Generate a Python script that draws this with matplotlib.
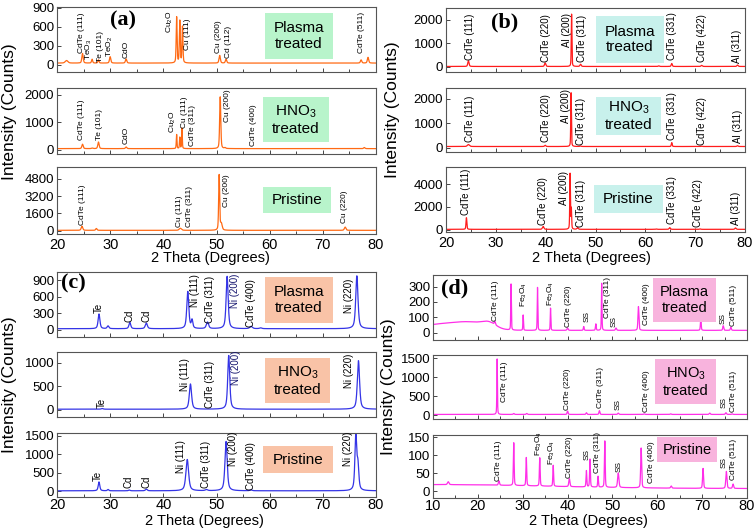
import numpy as np
import matplotlib
matplotlib.use('Agg')
import matplotlib.pyplot as plt
from matplotlib.patches import Rectangle
from matplotlib.ticker import MultipleLocator

plt.rcParams['font.family'] = ['Liberation Sans', 'DejaVu Sans']
plt.rcParams['mathtext.default'] = 'regular'

W, H = 756, 532

# ---------------- data: peak lists ----------------
# (a) CdTe/Cu
a1_base = 30
a1_pos = [21.8, 24.8, 26.6, 27.8, 30.0, 33.0, 42.5, 43.1, 43.6, 50.6, 51.8, 77.2, 78.5]
a1_hgt = [40, 150, 60, 50, 100, 65, 720, 660, 570, 120, 60, 50, 90]
a1_wid = [0.6, 0.3, 0.25, 0.25, 0.3, 0.3, 0.2, 0.2, 0.2, 0.3, 0.3, 0.3, 0.3]
a1_lbl = [("CdTe (111)", 24.6, 190), ("TeO$_3$", 26.0, 80), ("Te (101)", 28.1, 50),
          ("TeO$_2$", 30.0, 130), ("CdO", 33.0, 110), ("Cu$_2$O", 41.2, 500),
          ("Cu (111)", 44.6, 230), ("Cu (200)", 50.3, 190), ("Cd (112)", 52.2, 110),
          ("CdTe (511)", 77.2, 190)]

a2_base = 40
a2_pos = [24.8, 26.6, 27.8, 33.0, 42.5, 43.1, 43.5, 50.7, 51.6, 77.8]
a2_hgt = [160, 20, 240, 60, 510, 410, 740, 1880, 30, 40]
a2_wid = [0.3, 0.3, 0.3, 0.3, 0.15, 0.15, 0.15, 0.25, 0.3, 0.3]
a2_lbl = [("CdTe (111)", 24.6, 360), ("Te (101)", 27.9, 360), ("CdO", 33.0, 200),
          ("Cu$_2$O", 41.8, 600), ("Cu (111)", 43.9, 790), ("CdTe (311)", 45.5, 120),
          ("Cu (200)", 52.1, 1020), ("CdTe (400)", 57.0, 120)]

a3_base = 40
a3_pos = [24.7, 27.4, 43.2, 50.5, 50.9, 74.2]
a3_hgt = [380, 170, 190, 5100, 600, 300]
a3_wid = [0.35, 0.3, 0.5, 0.22, 0.4, 0.35]
a3_lbl = [("CdTe (111)", 24.8, 530), ("Cu (111)", 43.0, 370), ("CdTe (311)", 45.0, 370),
          ("Cu (200)", 51.9, 2230), ("Cu (220)", 74.0, 690)]

# (b) CdTe/Al
b1_base = 20
b1_pos = [24.5, 39.9, 45.2, 47.0, 62.7, 65.3, 71.3, 78.5]
b1_hgt = [240, 150, 2220, 95, 25, 125, 45, 60]
b1_wid = [0.3, 0.3, 0.15, 0.3, 0.3, 0.25, 0.3, 0.3]
b1_lbl = [("CdTe (111)", 24.8, 290), ("CdTe (220)", 40.1, 215), ("Al (200)", 44.2, 860),
          ("CdTe (311)", 47.3, 215), ("CdTe (331)", 65.3, 290), ("CdTe (422)", 71.3, 215),
          ("Al (311)", 78.3, 150)]

b2_base = 45
b2_pos = [24.5, 39.9, 45.1, 47.0, 65.3, 71.3, 78.5]
b2_hgt = [80, 50, 2200, 20, 160, 15, 30]
b2_wid = [0.5, 0.3, 0.15, 0.3, 0.2, 0.3, 0.3]
b2_lbl = [("CdTe (111)", 24.8, 230), ("CdTe (220)", 40.0, 230), ("Al (200)", 44.0, 1000),
          ("CdTe (311)", 47.0, 100), ("CdTe (331)", 65.3, 300), ("CdTe (422)", 71.4, 100),
          ("Al (311)", 78.5, 170)]

b3_base = 25
b3_pos = [24.1, 39.5, 44.9, 45.15, 46.4, 62.2, 64.9, 71.0, 78.1]
b3_hgt = [1030, 260, 4900, 1800, 150, 30, 150, 35, 125]
b3_wid = [0.2, 0.35, 0.15, 0.15, 0.3, 0.3, 0.3, 0.3, 0.3]
b3_lbl = [("CdTe (111)", 24.0, 1260), ("CdTe (220)", 39.4, 380), ("Al (200)", 43.7, 2140),
          ("CdTe (311)", 47.0, 230), ("CdTe (331)", 65.3, 530), ("CdTe (422)", 70.5, 230),
          ("Al (311)", 78.2, 380)]

# (c) CdTe/Ni
c1_base = 15
c1_pos = [27.9, 29.6, 33.7, 36.8, 44.6, 45.4, 48.3, 52.0, 56.5, 58.3, 76.4]
c1_hgt = [270, 50, 115, 105, 680, 150, 120, 960, 40, 15, 970]
c1_wid = [0.4, 0.4, 0.4, 0.45, 0.45, 0.35, 0.5, 0.45, 0.6, 0.5, 0.5]
c1_lbl = [("Te", 27.8, 300), ("Cd", 33.7, 145), ("Cd", 36.8, 145), ("Ni (111)", 46.0, 420),
          ("CdTe (311)", 48.7, 115), ("Ni (200)", 53.4, 390), ("CdTe (400)", 56.5, 50),
          ("Ni (220)", 75.0, 300)]

c2_base = 10
c2_pos = [28.5, 45.1, 52.3, 76.7]
c2_hgt = [15, 540, 1150, 1040]
c2_wid = [0.4, 0.5, 0.45, 0.5]
c2_lbl = [("Te", 28.4, 40), ("Ni (111)", 44.0, 390), ("CdTe (311)", 48.7, 40),
          ("Ni (200)", 53.6, 535), ("Ni (220)", 74.9, 465)]

c3_base = 15
c3_pos = [27.9, 29.6, 33.6, 36.8, 44.5, 48.1, 51.8, 56.5, 76.2, 76.6]
c3_hgt = [240, 35, 20, 45, 845, 30, 1330, 20, 1480, 650]
c3_wid = [0.35, 0.3, 0.35, 0.4, 0.6, 0.5, 0.5, 0.5, 0.4, 0.4]
c3_lbl = [("Te", 27.7, 275), ("Cd", 33.5, 90), ("Cd", 36.8, 90), ("Ni (111)", 43.4, 500),
          ("CdTe (311)", 48.1, 90), ("Ni (200)", 53.1, 680), ("CdTe (400)", 56.5, 45),
          ("Ni (220)", 74.7, 680)]

# (d) CdTe/stainless steel
d1_base = 15
d1_hump_pos = [12.0, 19.0, 22.5]
d1_hump_hgt = [40, 38, 30]
d1_hump_wid = [11.8, 8.2, 3.5]
d1_pos = [23.8, 27.4, 30.1, 33.3, 36.2, 40.0, 43.6, 46.3, 47.6, 50.8, 55.8, 69.7, 74.7, 76.4]
d1_hgt = [20, 300, 100, 280, 145, 15, 25, 42, 307, 15, 155, 80, 30, 20]
d1_wid = [0.3, 0.15, 0.15, 0.15, 0.15, 0.3, 0.2, 0.2, 0.15, 0.3, 0.25, 0.2, 0.25, 0.25]
d1_lbl = [("CdTe (111)", 23.9, 75), ("Fe$_3$O$_4$", 30.3, 170), ("Fe$_3$O$_4$", 36.2, 175),
          ("CdTe (220)", 40.1, 40), ("SS", 44.3, 72), ("CdTe (311)", 48.9, 95),
          ("SS", 50.4, 40), ("CdTe (400)", 57.6, 50), ("SS", 74.7, 55), ("CdTe (511)", 76.9, 42)]

d2_base = 15
d2_pos = [24.3, 28.0, 30.9, 40.0, 44.2, 47.1, 51.3, 57.1, 63.0, 71.7, 75.3, 76.7]
d2_hgt = [1470, 25, 25, 90, 45, 100, 35, 15, 15, 35, 45, 15]
d2_wid = [0.15, 0.3, 0.3, 0.25, 0.25, 0.25, 0.3, 0.3, 0.3, 0.3, 0.3, 0.3]
d2_lbl = [("CdTe (111)", 26.0, 350), ("CdTe (220)", 40.0, 130), ("CdTe (311)", 47.4, 175),
          ("SS", 51.3, 130), ("CdTe (400)", 57.6, 90), ("SS", 74.8, 175), ("CdTe (511)", 77.1, 90)]

d3_base = 8
d3_hump_pos = [10.0]
d3_hump_hgt = [11]
d3_hump_wid = [60]
d3_pos = [13.4, 24.7, 28.0, 30.8, 33.8, 36.8, 40.4, 44.2, 45.0, 46.8, 48.3, 51.3, 56.4, 63.1, 70.2, 75.4, 76.9]
d3_hgt = [8, 12, 118, 78, 78, 58, 22, 45, 77, 30, 128, 40, 110, 6, 55, 47, 12]
d3_wid = [0.4, 0.3, 0.2, 0.2, 0.2, 0.2, 0.3, 0.2, 0.2, 0.2, 0.2, 0.35, 0.25, 0.3, 0.25, 0.3, 0.3]
d3_lbl = [("CdTe (111)", 24.7, 28), ("Fe$_3$O$_4$", 33.6, 97), ("Fe$_3$O$_4$", 36.6, 72),
          ("CdTe (220)", 40.4, 37), ("SS", 44.4, 88), ("CdTe (311)", 46.7, 51),
          ("SS", 51.5, 55), ("CdTe (400)", 58.6, 23), ("SS", 74.8, 65), ("CdTe (511)", 76.9, 32)]


def profile(x, base, pos, hgt, wid, eta=0.4):
    y = np.full_like(x, float(base))
    for p, h, w in zip(pos, hgt, wid):
        u = (x - p) / w
        y += h * ((1 - eta) * np.exp(-4 * np.log(2) * u * u) + eta / (1 + 4 * u * u))
    return y


fig = plt.figure(figsize=(W / 100, H / 100), dpi=100)


def px_axes(x0, x1, y0, y1):
    return fig.add_axes([x0 / W, 1 - y1 / H, (x1 - x0) / W, (y1 - y0) / H])


def box(x0, x1, y0, y1, text, color, size):
    fig.add_artist(Rectangle((x0 / W, 1 - y1 / H), (x1 - x0) / W, (y1 - y0) / H,
                             transform=fig.transFigure, facecolor=color, edgecolor='none', zorder=2))
    fig.text((x0 + x1) / 2 / W, 1 - (y0 + y1) / 2 / H, text, ha='center', va='center',
             fontsize=size, linespacing=1.15, zorder=3)


def panel(ax, x, y, color, xlim, ylim, yticks, labels, lsize, bottom, hi=(), xpad=3):
    ax.plot(x, y, color=color, lw=0.9)
    ax.set_xlim(*xlim)
    ax.set_ylim(*ylim)
    ax.set_yticks(yticks)
    ax.xaxis.set_major_locator(MultipleLocator(10))
    ax.xaxis.set_minor_locator(MultipleLocator(5))
    ax.tick_params(which='both', direction='in', width=0.7, color='#444444')
    ax.tick_params(which='major', length=3)
    ax.tick_params(which='minor', length=2)
    ax.tick_params(axis='y', labelsize=9.5, pad=2)
    ax.tick_params(axis='x', labelsize=10.5, pad=xpad, labelbottom=bottom)
    for s in ax.spines.values():
        s.set_color('#555555')
        s.set_linewidth(0.8)
    for i, (t, lx, ly) in enumerate(labels):
        ax.text(lx, ly, t, rotation=90, ha='center', va='bottom', fontsize=lsize,
                color='#14146e' if i in hi else 'black')


xa = np.linspace(20, 80, 6001)
xd = np.linspace(10, 80, 7001)

col_a, col_b, col_c, col_d = '#ff6a14', '#ff1c1c', '#3434e6', '#ff2ee8'
box_a, box_b, box_c, box_d = '#b8f4cb', '#c8f1ec', '#f9c3a7', '#f8b3dd'

# (a)
ax = px_axes(57, 376, 7, 72)
panel(ax, xa, profile(xa, a1_base, a1_pos, a1_hgt, a1_wid), col_a, (20, 80), (-110, 910),
      [0, 300, 600, 900], a1_lbl, 6, False)
ax = px_axes(57, 376, 88, 154)
panel(ax, xa, profile(xa, a2_base, a2_pos, a2_hgt, a2_wid), col_a, (20, 80), (-155, 2240),
      [0, 1000, 2000], a2_lbl, 6, False)
ax = px_axes(57, 376, 167, 234)
panel(ax, xa, profile(xa, a3_base, a3_pos, a3_hgt, a3_wid), col_a, (20, 80), (-300, 5900),
      [0, 1600, 3200, 4800], a3_lbl, 6, True)

# (b)
ax = px_axes(446, 745, 8, 72)
panel(ax, xa, profile(xa, b1_base, b1_pos, b1_hgt, b1_wid), col_b, (20, 80), (-215, 2500),
      [0, 1000, 2000], b1_lbl, 7, False)
ax = px_axes(446, 745, 88, 152)
panel(ax, xa, profile(xa, b2_base, b2_pos, b2_hgt, b2_wid), col_b, (20, 80), (-180, 2440),
      [0, 1000, 2000], b2_lbl, 7, False)
ax = px_axes(446, 745, 167, 232)
panel(ax, xa, profile(xa, b3_base, b3_pos, b3_hgt, b3_wid), col_b, (20, 80), (-210, 5530),
      [0, 2000, 4000], b3_lbl, 7, True)

# (c)
ax = px_axes(57, 376, 272, 337)
panel(ax, xa, profile(xa, c1_base, c1_pos, c1_hgt, c1_wid, 0.6), col_c, (20, 80), (-137, 1055),
      [0, 300, 600, 900], c1_lbl, 7, False, hi=(5,))
ax = px_axes(57, 376, 352, 417)
panel(ax, xa, profile(xa, c2_base, c2_pos, c2_hgt, c2_wid, 0.6), col_c, (20, 80), (-157, 1235),
      [0, 500, 1000], c2_lbl, 7, False, hi=(3,))
ax = px_axes(57, 376, 433, 497)
panel(ax, xa, profile(xa, c3_base, c3_pos, c3_hgt, c3_wid, 0.6), col_c, (20, 80), (-152, 1575),
      [0, 500, 1000, 1500], c3_lbl, 7, True, xpad=1)

# (d)
y_d1 = profile(xd, d1_base, d1_pos, d1_hgt, d1_wid) + profile(xd, 0, d1_hump_pos, d1_hump_hgt, d1_hump_wid, 0)
ax = px_axes(433, 747, 275, 340)
panel(ax, xd, y_d1, col_d, (10, 80), (-48, 376), [0, 100, 200, 300], d1_lbl, 6, False)
ax = px_axes(433, 747, 355, 419)
panel(ax, xd, profile(xd, d2_base, d2_pos, d2_hgt, d2_wid), col_d, (10, 80), (-106, 1590),
      [0, 500, 1000, 1500], d2_lbl, 6, False)
y_d3 = profile(xd, d3_base, d3_pos, d3_hgt, d3_wid) + profile(xd, 0, d3_hump_pos, d3_hump_hgt, d3_hump_wid, 0)
ax = px_axes(433, 747, 435, 498)
panel(ax, xd, y_d3, col_d, (10, 80), (-18, 156), [0, 50, 100, 150], d3_lbl, 6, True, xpad=1)

# sample boxes
box(265, 333, 13, 59, "Plasma\ntreated", box_a, 11)
box(263, 329, 97, 142, "HNO$_3$\ntreated", box_a, 11)
box(263, 331, 187, 213, "Pristine", box_a, 11)
box(596, 664, 16, 63, "Plasma\ntreated", box_b, 11)
box(596, 661, 97, 135, "HNO$_3$\ntreated", box_b, 11)
box(594, 663, 185, 213, "Pristine", box_b, 11)
box(265, 333, 277, 323, "Plasma\ntreated", box_c, 11)
box(265, 330, 358, 403, "HNO$_3$\ntreated", box_c, 11)
box(263, 333, 446, 473, "Pristine", box_c, 11)
box(653, 716, 278, 322, "Plasma\ntreated", box_d, 10.5)
box(655, 716, 359, 404, "HNO$_3$\ntreated", box_d, 10.5)
box(657, 717, 437, 462, "Pristine", box_d, 10.5)

# panel letters
for t, px, py in [("(a)", 123, 20), ("(b)", 505, 22), ("(c)", 73, 283), ("(d)", 455, 288)]:
    fig.text(px / W, 1 - py / H, t, ha='center', va='center', fontsize=16,
             fontweight='bold', family='Liberation Serif')

# axis titles
for px, py in [(210, 258), (591, 258), (204, 521), (588, 521)]:
    fig.text(px / W, 1 - py / H, "2 Theta (Degrees)", ha='center', va='center', fontsize=10.5)
for px, py in [(10, 112), (392, 110), (10, 385), (389, 387)]:
    fig.text(px / W, 1 - py / H, "Intensity (Counts)", ha='center', va='center',
             fontsize=12.5, rotation=90)

fig.savefig('out.png', dpi=100)
